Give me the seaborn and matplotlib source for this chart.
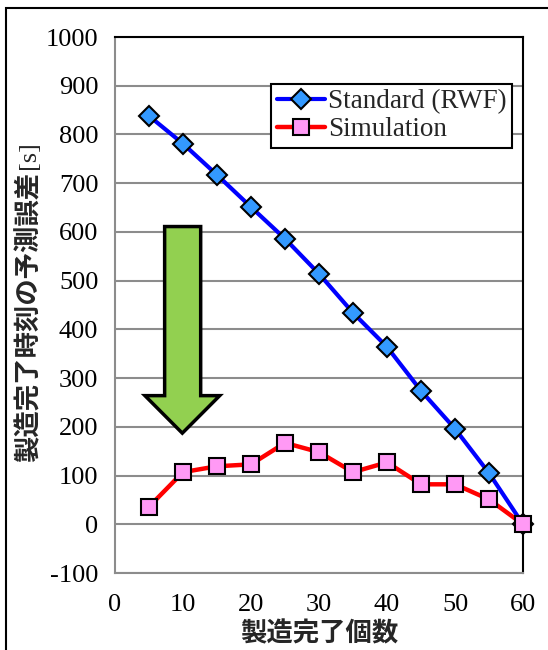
import matplotlib
matplotlib.use("Agg")
import matplotlib.pyplot as plt
from matplotlib.patches import Polygon, Rectangle
from matplotlib.lines import Line2D
import seaborn as sns
import pandas as pd

# ---- data ----
x_counts = [5, 10, 15, 20, 25, 30, 35, 40, 45, 50, 55, 60]
standard_rwf = [838, 781, 717, 651, 586, 514, 434, 364, 274, 196, 105, 0]
simulation = [36, 107, 119, 123, 167, 148, 107, 127, 82, 82, 51, 0]
series_names = ["Standard (RWF)", "Simulation"]
y_ticks = list(range(-100, 1001, 100))
x_ticks = list(range(0, 61, 10))
x_label = "製造完了個数"
y_label_cjk = "製造完了時刻の予測誤差"
y_label_unit = " [s]"

sns.set_theme(style="white")
plt.rcParams['font.family'] = ['Liberation Serif', 'DejaVu Serif']
plt.rcParams['axes.unicode_minus'] = False

fig = plt.figure(figsize=(5.48, 6.5), dpi=100)
ax = fig.add_axes([115/548, 1-573/650, 408/548, 536/650])

df_std = pd.DataFrame({"x": x_counts, "y": standard_rwf})
df_sim = pd.DataFrame({"x": x_counts, "y": simulation})

sns.lineplot(data=df_std, x="x", y="y", ax=ax, color="#0000FF", linewidth=3,
             marker="D", markersize=10, markerfacecolor="#3399FF",
             markeredgecolor="black", markeredgewidth=1.5, zorder=4, clip_on=False)
sns.lineplot(data=df_sim, x="x", y="y", ax=ax, color="#FF0000", linewidth=3.2,
             marker="s", markersize=11, markerfacecolor="#FF99F5",
             markeredgecolor="black", markeredgewidth=1.5, zorder=5, clip_on=False)

ax.set_xlim(0, 60)
ax.set_ylim(-100, 1000)
ax.set_xticks(x_ticks)
ax.set_yticks(y_ticks)
ax.grid(axis="y", color="#8c8c8c", linewidth=1.5)
ax.set_axisbelow(True)
ax.tick_params(axis="both", direction="out", length=6, width=1.5, color="#8c8c8c",
               labelsize=19, labelcolor="black")
ax.tick_params(axis="x", pad=9)
ax.tick_params(axis="y", pad=6)
for lab in ax.get_xticklabels() + ax.get_yticklabels():
    lab.set_fontfamily(['Liberation Serif'])

for side in ["left", "bottom"]:
    ax.spines[side].set_color("#8c8c8c")
    ax.spines[side].set_linewidth(1.5)
for side in ["right", "top"]:
    ax.spines[side].set_color("black")
    ax.spines[side].set_linewidth(1.5)

ax.set_xlabel(x_label, fontsize=19, fontweight="bold",
              family=['Noto Sans CJK JP', 'DejaVu Sans'], labelpad=3)
ax.set_ylabel("")

# y label: CJK part (bold sans) + unit (serif)
fig.text(29/548, 1-317/650, y_label_cjk, rotation=90, ha="center", va="center",
         fontsize=19, fontweight="bold", family=['Noto Sans CJK JP', 'DejaVu Sans'])
fig.text(29/548, 1-155/650, y_label_unit.strip(), rotation=90, ha="center", va="center",
         fontsize=19, family=['Liberation Serif'])

# green arrow (annotation)
arrow_pts = [(7.3, 611), (12.6, 611), (12.6, 264), (15.4, 264), (9.9, 187),
             (4.4, 264), (7.3, 264)]
ax.add_patch(Polygon(arrow_pts, closed=True, facecolor="#92D050",
                     edgecolor="black", linewidth=2.5, zorder=3, joinstyle="miter"))

# legend
handles = [
    Line2D([], [], color="#0000FF", linewidth=3, marker="D", markersize=10,
           markerfacecolor="#3399FF", markeredgecolor="black", markeredgewidth=1.5),
    Line2D([], [], color="#FF0000", linewidth=3.2, marker="s", markersize=11,
           markerfacecolor="#FF99F5", markeredgecolor="black", markeredgewidth=1.5),
]
leg = ax.legend(handles, series_names, loc="upper right",
                bbox_to_anchor=(512/548, 1-84/650), bbox_transform=fig.transFigure,
                prop={'family': 'Liberation Serif', 'size': 19.5},
                frameon=True, fancybox=False, framealpha=1, edgecolor="black",
                handlelength=1.8, handletextpad=0.1, borderpad=0.2,
                labelspacing=0.1, borderaxespad=0)
leg.get_frame().set_linewidth(1.5)

# outer frame
fig.patches.append(Rectangle((6/548, -0.1), 1.2, 1-8/650+0.1, transform=fig.transFigure,
                             fill=False, edgecolor="black", linewidth=1.5))

fig.savefig("out.png", dpi=100)
